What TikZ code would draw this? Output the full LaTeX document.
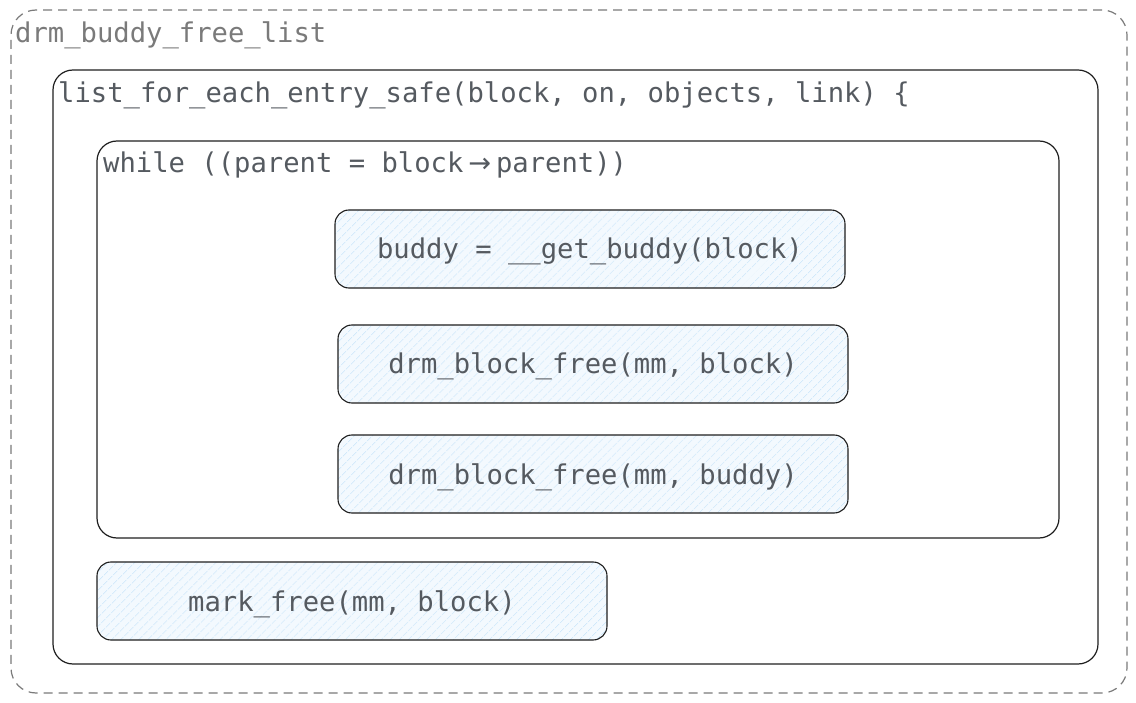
\documentclass[tikz,border=0pt]{standalone}
\usepackage{fontspec}
\setmonofont{DejaVu Sans Mono}
\newfontfamily\arrowfont{DejaVu Sans}
\usetikzlibrary{positioning,patterns.meta}
\definecolor{inkc}{HTML}{1E1E1E}
\definecolor{textc}{HTML}{555A60}
\definecolor{dashc}{HTML}{7A7A7A}
\definecolor{hatchc}{HTML}{BCDFF9}
\definecolor{paperc}{HTML}{F3F9FE}
\newcommand{\ptrarrow}{{\arrowfont\makebox[32.6pt]{→}}}
\tikzset{
  group/.style={draw=inkc,line width=1.2pt,rounded corners=20pt,inner sep=0pt},
  outer/.style={draw=dashc,line width=1.2pt,dash pattern=on 9pt off 6pt,rounded corners=25pt,inner sep=0pt},
  caption/.style={anchor=west,inner sep=0pt,text=textc,font=\ttfamily\fontsize{27.2}{30}\selectfont},
  call/.style={draw=inkc,line width=1.1pt,rounded corners=14pt,minimum width=510pt,minimum height=78pt,
    preaction={fill=paperc},preaction={pattern={Lines[angle=45,distance=6.5pt,line width=0.6pt]},pattern color=hatchc},
    text height=22pt,text depth=2pt,
    text=textc,font=\ttfamily\fontsize{27.2}{30}\selectfont}
}
\begin{document}
\begin{tikzpicture}[x=1pt,y=-1pt,node distance=112pt,on grid]
\useasboundingbox (0,0) rectangle (1136,703);
% frames
\node[outer,minimum width=1116pt,minimum height=683pt] (freelist) at (569,351.5) {};
\node[group,minimum width=1045pt,minimum height=594pt] (foreach) at (575.5,367) {};
\node[group,minimum width=962pt,minimum height=397pt] (whileloop) at (578,339.5) {};
\node[caption,text=dashc] (freelist_t) at (15,35) {drm\_buddy\_free\_list};
\node[caption] (foreach_t) at (58,95) {list\_for\_each\_entry\_safe(block, on, objects, link) \{};
\node[caption] (whileloop_t) at (103,165) {while ((parent = block\ptrarrow parent))};
% calls
\node[call] (getbuddy) at (590,249) {buddy = \_\_get\_buddy(block)};
\node[call] (freeblock) [below=115pt of getbuddy,xshift=3pt] {drm\_block\_free(mm, block)};
\node[call] (freebuddy) [below=110pt of freeblock] {drm\_block\_free(mm, buddy)};
\node[call] (markfree) at (352,601) {mark\_free(mm, block)};
\end{tikzpicture}
\end{document}
